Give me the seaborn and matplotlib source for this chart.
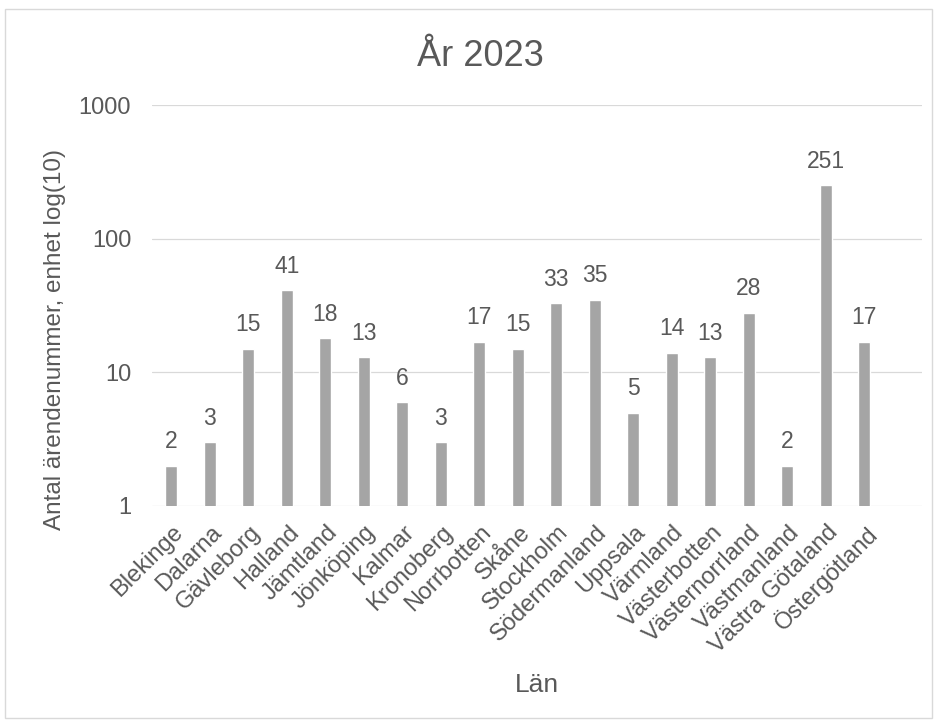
import matplotlib
matplotlib.use("Agg")
import matplotlib.pyplot as plt
import matplotlib.ticker as mticker
import matplotlib.transforms as mtransforms
from matplotlib.patches import Rectangle
import seaborn as sns
import pandas as pd

lan = ["Blekinge", "Dalarna", "Gävleborg", "Halland", "Jämtland", "Jönköping",
       "Kalmar", "Kronoberg", "Norrbotten", "Skåne", "Stockholm", "Södermanland",
       "Uppsala", "Värmland", "Västerbotten", "Västernorrland", "Västmanland",
       "Västra Götaland", "Östergötland"]
antal = [2, 3, 15, 41, 18, 13, 6, 3, 17, 15, 33, 35, 5, 14, 13, 28, 2, 251, 17]
y_ticks = [1, 10, 100, 1000]

df = pd.DataFrame({"Län": lan, "Antal": antal})

sns.set_theme(style="white")
plt.rcParams["font.family"] = ["Liberation Sans", "DejaVu Sans"]

text_col = "#595959"
bar_col = "#A5A5A5"
grid_col = "#D9D9D9"

W, H = 938, 727
fig = plt.figure(figsize=(W / 100, H / 100), dpi=100)
fig.patches.append(Rectangle((5 / W, 9 / H), 927 / W, 709 / H,
                             transform=fig.transFigure, fill=False,
                             edgecolor=grid_col, linewidth=1.0))

ax = fig.add_axes([152 / W, 1 - 506 / H, 770 / W, 401 / H])
sns.barplot(data=df, x="Län", y="Antal", color=bar_col, width=0.31,
            saturation=1, ax=ax, zorder=3)
ax.set_yscale("log")
ax.set_ylim(1, 1000)
ax.set_xlim(-0.5, len(lan) + 0.5)

ax.yaxis.set_major_locator(mticker.FixedLocator(y_ticks))
ax.yaxis.set_minor_locator(mticker.NullLocator())
ax.set_yticklabels([str(t) for t in y_ticks])
ax.grid(axis="y", color=grid_col, linewidth=0.9, zorder=0)
for s in ax.spines.values():
    s.set_visible(False)
ax.tick_params(axis="both", length=0, colors=text_col)
ax.tick_params(axis="y", pad=15, labelsize=17)
ax.tick_params(axis="x", pad=11, labelsize=17)
shift = mtransforms.ScaledTranslation(1 / 100, 0, fig.dpi_scale_trans)
for lbl in ax.get_xticklabels():
    lbl.set_rotation(45)
    lbl.set_ha("right")
    lbl.set_va("top")
    lbl.set_rotation_mode("anchor")
    lbl.set_transform(lbl.get_transform() + shift)

for p, v in zip(ax.patches, antal):
    ax.annotate(str(v), (p.get_x() + p.get_width() / 2, v),
                xytext=(0, 12.5), textcoords="offset points",
                ha="center", va="baseline", fontsize=16.5, color=text_col)

ax.set_xlabel("")
ax.set_ylabel("")
fig.text(480 / W, 1 - 66 / H, "År 2023", fontsize=26, color=text_col,
         ha="center", va="baseline")
fig.text(537 / W, 1 - 685 / H, "Län", fontsize=19, color=text_col,
         ha="center", va="center")
fig.text(55 / W, 1 - 340 / H, "Antal ärendenummer, enhet log(10)",
         fontsize=17.5, color=text_col, rotation=90, ha="center", va="center")

fig.savefig("out.png", dpi=100)
